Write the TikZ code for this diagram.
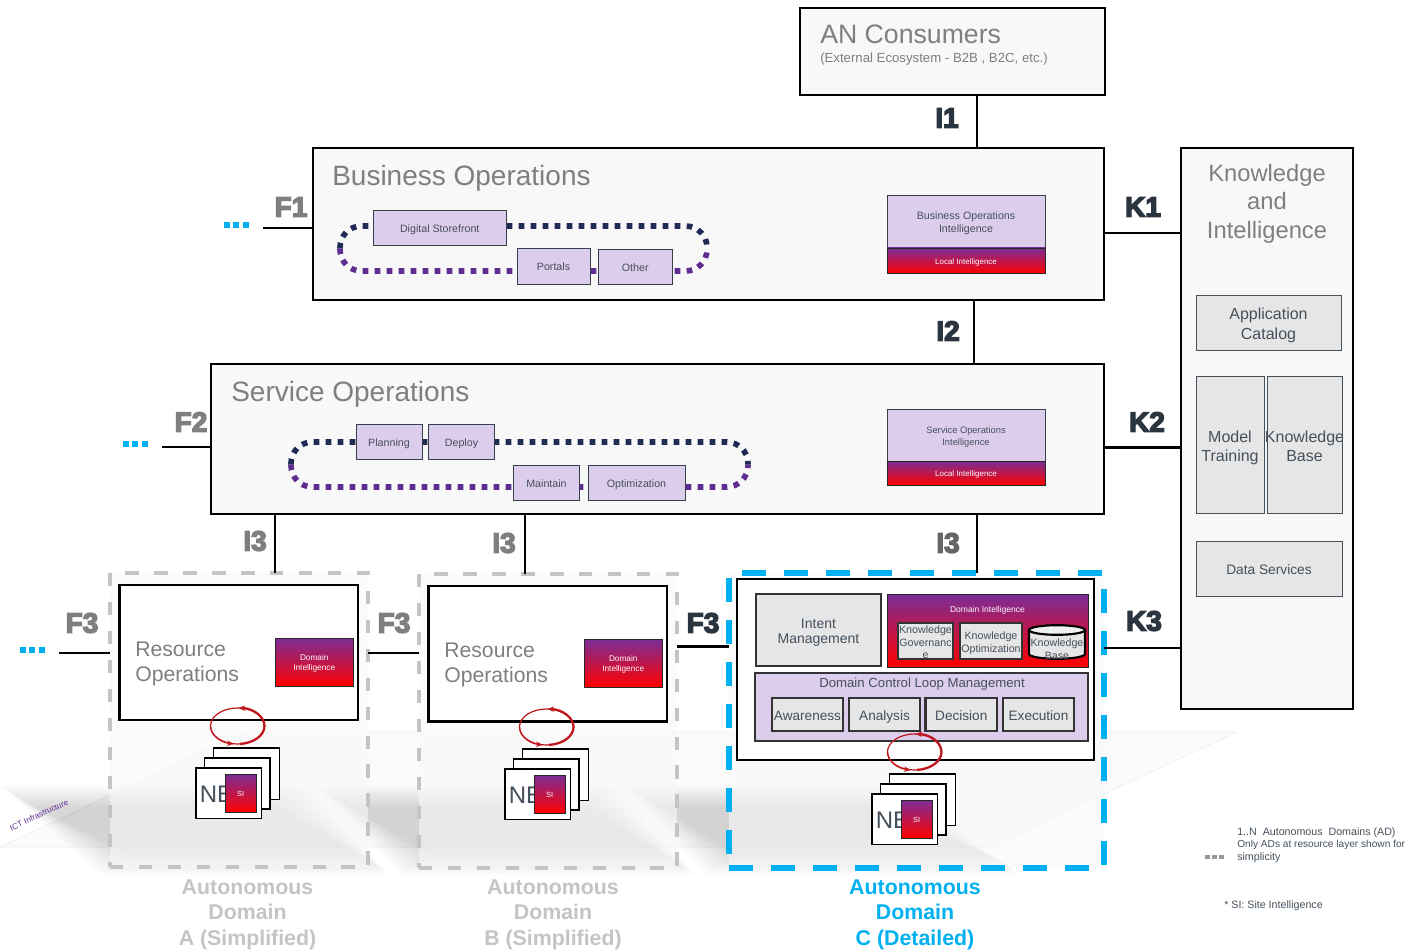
\documentclass[tikz,border=0pt]{standalone}
\usepackage{fontspec}
\setmainfont{Liberation Sans}
\newfontfamily\heavy[BoldFeatures={FakeBold=5}]{Liberation Sans}
\usetikzlibrary{arrows.meta}
\definecolor{panel}{HTML}{F8F8F8}
\definecolor{planefill}{HTML}{FBFBFB}
\definecolor{lilac}{HTML}{DDCDEC}
\definecolor{greybox}{HTML}{E6E6E6}
\definecolor{titlegrey}{HTML}{7F7F7F}
\definecolor{ink}{HTML}{44505C}
\definecolor{navy}{HTML}{1F2A55}
\definecolor{violet}{HTML}{5F2D91}
\definecolor{topviolet}{HTML}{7B2D96}
\definecolor{cyanx}{HTML}{00B0F0}
\definecolor{dashgrey}{HTML}{C4C4C4}
\definecolor{labelgrey}{HTML}{7F7F7F}
\definecolor{labeldark}{HTML}{2B3540}
\definecolor{loopred}{HTML}{C0161C}
\newcommand{\fsz}[1]{\fontsize{#1}{#1}\selectfont}
% \boxn[style]{name}{x1}{y1}{x2}{y2}{text}: text may overflow the box, as in the reference
\newcommand{\boxn}[7][]{%
  \pgfmathsetmacro\bxw{(#5-#3)*0.75}%
  \pgfmathsetmacro\bxh{(#6-#4)*0.75}%
  \pgfmathsetmacro\bxx{(#3+#5)/2}%
  \pgfmathsetmacro\bxy{(#4+#6)/2}%
  \node[anchor=center,inner sep=0pt,outer sep=0pt,minimum width=\bxw pt,minimum height=\bxh pt,#1] (#2) at (\bxx,\bxy) {\makebox[0pt]{\raisebox{-.49em}[0pt][0pt]{\begin{tabular}{@{}c@{}}#7\end{tabular}}}};%
}
\newcommand{\redloop}[2]{%
  \draw[loopred,line width=.9pt] (#1,#2) ellipse[x radius=20.25pt,y radius=13.5pt];
  \draw[loopred,line width=1.7pt,-{Stealth[length=5pt,width=4pt]}] (#1,#2) ++(20.25pt,0pt) arc[start angle=0,end angle=88,x radius=20.25pt,y radius=13.5pt];
  \draw[loopred,line width=1.7pt] (#1,#2) ++(20.25pt,0pt) arc[start angle=0,end angle=-85,x radius=20.25pt,y radius=13.5pt];
  \draw[loopred,line width=.9pt,-{Stealth[length=5pt,width=4pt]}] (#1,#2) ++(-20.25pt,0pt) arc[start angle=180,end angle=262,x radius=20.25pt,y radius=13.5pt];
}
% \nestack{dx}{dy}{suffix}
\newcommand{\nestack}[3]{%
  \pgfmathsetmacro\xa{#1+213.5}\pgfmathsetmacro\xb{#1+279.5}\pgfmathsetmacro\ya{#2+748}\pgfmathsetmacro\yb{#2+799.5}%
  \pgfmathsetmacro\xc{#1+204.5}\pgfmathsetmacro\xd{#1+270}\pgfmathsetmacro\yc{#2+758}\pgfmathsetmacro\yd{#2+809}%
  \pgfmathsetmacro\xe{#1+196}\pgfmathsetmacro\xf{#1+261.5}\pgfmathsetmacro\ye{#2+768}\pgfmathsetmacro\yf{#2+818.5}%
  \pgfmathsetmacro\xg{#1+225}\pgfmathsetmacro\xh{#1+256.5}\pgfmathsetmacro\yg{#2+774}\pgfmathsetmacro\yh{#2+812}%
  \pgfmathsetmacro\xt{#1+199.5}\pgfmathsetmacro\yt{#2+794.5}%
  \boxn[nebox]{neback#3}{\xa}{\ya}{\xb}{\yb}{}
  \boxn[nebox]{nemid#3}{\xc}{\yc}{\xd}{\yd}{}
  \boxn[nebox]{nefront#3}{\xe}{\ye}{\xf}{\yf}{}
  \node[anchor=west,inner sep=0pt,text=ink,font=\fsz{18}] (netext#3) at (\xt,\yt) {NE};
  \boxn[grad,font=\fsz{5.6}]{si#3}{\xg}{\yg}{\xh}{\yh}{SI}
}
\newcommand{\softband}[8]{%
  \foreach \k in {0,...,19}{
    \fill[black,fill opacity=.0065] ({#1+1.7*\k},{#2+1.15*\k}) -- ({#3-1.7*\k},{#4+1.15*\k}) -- ({#5-1.7*\k},{#6-1.15*\k}) -- ({#7+1.7*\k},{#8-1.15*\k}) -- cycle;
  }
}
\tikzset{
  x=0.75pt,y=-0.75pt,
  panelbox/.style={draw=black,line width=1.9pt,fill=panel},
  conn/.style={draw=black,line width=1.9pt},
  lilacbox/.style={draw=ink!80!black,line width=.7pt,fill=lilac,text=ink,font=\fsz{8}},
  grad/.style={draw=black!85,line width=.6pt,top color=topviolet,bottom color=red,text=white!88!lilac},
  greyb/.style={draw=ink,line width=.6pt,fill=greybox,text=ink,font=\fsz{12}},
  darkb/.style={draw=black!80,line width=1.6pt,fill=greybox,text=ink},
  nebox/.style={draw=black,line width=1.4pt,fill=white},
  white panel/.style={draw=black,line width=1.9pt,fill=white},
  dashA/.style={draw=dashgrey,line width=2.6pt,dash pattern=on 10pt off 11.7pt,fill=panel,fill opacity=.6},
  dashC/.style={draw=cyanx,line width=3.8pt,dash pattern=on 18pt off 13.5pt,fill=panel,fill opacity=.6},
  title/.style={anchor=west,inner sep=0pt,text=titlegrey},
  heavylabel/.style={inner sep=0pt,font=\heavy\bfseries\fsz{21}},
  domlabel/.style={inner sep=0pt,align=center,font=\bfseries\fontsize{16}{19.1}\selectfont},
  note/.style={anchor=west,inner sep=0pt,text=ink,font=\fsz{8}},
  dots/.style={line width=4.5pt,dash pattern=on 4.5pt off 2.6pt},
  plane/.style={draw=black!7,line width=.5pt,fill=planefill},
  loopdots/.style={line width=4.2pt,dash pattern=on 4.2pt off 4.8pt,rounded corners=16pt},
}
\begin{document}
\begin{tikzpicture}
\useasboundingbox (0,0) rectangle (1409,952);
% ground plane
\draw[plane] (0,847) -- (245,732) -- (1237,732) -- (990,847) -- cycle;
\softband{0}{785}{305}{785}{390}{875}{100}{875}
\softband{315}{785}{615}{785}{695}{875}{400}{875}
\softband{625}{785}{900}{785}{1020}{875}{705}{875}
\node[rotate=25,inner sep=0pt,text=violet,font=\fsz{6.1}] (ict) at (39,815) {ICT Infrastructure};
% dashed domains
\boxn[dashA]{domA}{110}{573}{368}{867}{}
\boxn[dashA]{domB}{419}{574}{677}{868}{}
\boxn[dashC]{domC}{729}{573}{1104}{868}{}
% panels
\boxn[panelbox]{an}{800}{8}{1105}{95}{}
\boxn[panelbox]{biz}{313}{148}{1104}{300}{}
\boxn[panelbox]{svc}{211}{364}{1104}{514}{}
\boxn[panelbox]{know}{1181}{148}{1353}{709}{}
\node[title,font=\fsz{20}] (antitle) at (820,34) {AN Consumers};
\node[title,font=\fsz{9.9}] (ansub) at (820,59.5) {(External Ecosystem - B2B , B2C, etc.)};
\node[title,font=\fsz{21}] (biztitle) at (332,178.5) {Business Operations};
\node[title,font=\fsz{21}] (svctitle) at (231,394.5) {Service Operations};
\node[inner sep=0pt,align=center,text=titlegrey,font=\fontsize{17.8}{21.3}\selectfont] (knowtitle) at (1267,203.5) {Knowledge\\and\\Intelligence};
% dotted loops
\draw[navy,loopdots] (340,248.5) |- (707,226) -- (707,248.5);
\draw[violet,loopdots] (340,248.5) |- (707,271) -- (707,248.5);
\draw[navy,loopdots] (291,464.5) |- (748,442) -- (748,464.5);
\draw[violet,loopdots] (291,464.5) |- (748,487) -- (748,464.5);
% business boxes
\boxn[lilacbox]{store}{373.5}{210}{506}{245}{Digital Storefront}
\boxn[lilacbox]{portals}{517}{248}{590}{284}{Portals}
\boxn[lilacbox]{other}{598.5}{249}{672}{284.5}{Other}
\boxn[lilacbox]{bizint}{887}{195}{1045}{248}{Business Operations\\[1.5pt]Intelligence}
\boxn[grad,font=\fsz{6}]{bizlocal}{887}{248}{1045}{273}{Local Intelligence}
% service boxes
\boxn[lilacbox]{planning}{356}{424}{422}{459.5}{Planning}
\boxn[lilacbox]{deploy}{428.5}{424}{494.5}{459.5}{Deploy}
\boxn[lilacbox]{maintain}{513.5}{465}{579.5}{500.5}{Maintain}
\boxn[lilacbox]{optim}{588}{465}{685}{500.5}{Optimization}
\boxn[lilacbox,font=\fsz{7}]{svcint}{887}{409}{1045}{461}{Service Operations\\[1.5pt]Intelligence}
\boxn[grad,font=\fsz{6}]{svclocal}{887}{461}{1045}{485}{Local Intelligence}
% knowledge column
\boxn[greyb]{catalog}{1196}{295}{1341}{350}{Application\\[2.5pt]Catalog}
\boxn[greyb]{model}{1196}{376}{1264}{513}{Model\\[2pt]Training}
\boxn[greyb]{kbase}{1267}{376}{1342}{513}{Knowledge\\[2pt]Base}
\boxn[greyb,font=\fsz{10.3}]{data}{1196}{541}{1342}{596}{Data Services}
% resource A
\boxn[white panel]{resA}{119.5}{585}{358}{720}{}
\node[title,align=left,font=\fontsize{15.9}{18.8}\selectfont] (resAt) at (135,663.5) {Resource\\Operations};
\boxn[grad,font=\fsz{6.2}]{diA}{275.5}{638}{353}{686}{Domain\\[1pt]Intelligence}
% resource B
\boxn[white panel]{resB}{428.5}{586}{667}{721.5}{}
\node[title,align=left,font=\fontsize{15.9}{18.8}\selectfont] (resBt) at (444,664.5) {Resource\\Operations};
\boxn[grad,font=\fsz{6.2}]{diB}{584.5}{639}{662}{687}{Domain\\[1pt]Intelligence}
% resource C
\boxn[white panel]{resC}{737}{579}{1094}{760}{}
\boxn[darkb,font=\fsz{10.5}]{intent}{756}{594}{881}{666}{Intent\\[1pt]Management}
\boxn[grad,font=\fsz{6.4}]{diC}{887}{594}{1088}{667}{}
\node[inner sep=0pt,text=white!88!lilac,font=\fsz{6.4}] (diCt) at (987.5,610) {Domain Intelligence};
\boxn[darkb,font=\fontsize{8}{9.6}\selectfont]{kgov}{898}{623}{953}{659}{Knowledge\\Governanc\\e}
\boxn[darkb,font=\fontsize{8}{9.6}\selectfont]{kopt}{960}{623}{1022}{659}{Knowledge\\Optimization}
\draw[draw=black,line width=1.6pt,fill=greybox] (1029,630) -- (1029,654) arc[start angle=180,end angle=360,x radius=21pt,y radius=3.6pt] -- (1085,630) -- cycle;
\draw[draw=black,line width=1.6pt,fill=greybox!60!white] (1057,630) ellipse[x radius=21pt,y radius=3.6pt];
\node[inner sep=0pt,align=center,text=ink,font=\fontsize{8}{9.6}\selectfont] (kbc) at (1057,649.5) {Knowledge\\Base};
\boxn[darkb,fill=lilac]{dclm}{755}{673}{1088}{741}{}
\node[inner sep=0pt,text=ink,font=\fsz{9.9}] (dclmt) at (922,684) {Domain Control Loop Management};
\boxn[darkb,font=\fsz{10.2}]{aware}{772}{698}{843}{731}{Awareness}
\boxn[darkb,font=\fsz{10.2}]{analysis}{849}{698}{920}{731}{Analysis}
\boxn[darkb,font=\fsz{10.2}]{decision}{925.5}{698}{997}{731}{Decision}
\boxn[darkb,font=\fsz{10.2}]{exec}{1003}{698}{1074}{731}{Execution}
% NE stacks and loops
\nestack{0}{0}{A}
\nestack{309}{1}{B}
\nestack{676}{26}{C}
\redloop{237.5}{726}
\redloop{546.5}{727}
\redloop{914.5}{752}
% connector anchors
\coordinate (vI1) at (977,0);
\coordinate (vI2) at (974,0);
\coordinate (vI3a) at (275,0);
\coordinate (vI3b) at (525,0);
\coordinate (vI3c) at (977,0);
\coordinate (hK1) at (0,233);
\coordinate (hK2) at (0,447.5);
\coordinate (hK3) at (0,648);
\coordinate (f1end) at (263,228);
\coordinate (f2end) at (162,447);
\coordinate (f3end) at (59,653);
\coordinate (hF3b) at (0,653);
\coordinate (hF3c) at (0,646.5);
\draw[conn] (an.south -| vI1) -- (biz.north -| vI1);
\draw[conn] (biz.south -| vI2) -- (svc.north -| vI2);
\draw[conn] (svc.south -| vI3a) -- (domA.north -| vI3a);
\draw[conn] (svc.south -| vI3b) -- (domB.north -| vI3b);
\draw[conn] (svc.south -| vI3c) -- (domC.north -| vI3c);
\draw[conn] (biz.east |- hK1) -- (know.west |- hK1);
\draw[conn] (svc.east |- hK2) -- (know.west |- hK2);
\draw[conn] (domC.east |- hK3) -- (know.west |- hK3);
\draw[conn] (f1end) -- (biz.west |- f1end);
\draw[conn] (f2end) -- (svc.west |- f2end);
\draw[conn] (f3end) -- (domA.west |- f3end);
\draw[conn] (domA.east |- hF3b) -- (domB.west |- hF3b);
\draw[conn] (domB.east |- hF3c) -- (domC.west |- hF3c);
% interface labels
\node[heavylabel,text=labeldark] (lI1) at (947,118) {I1};
\node[heavylabel,text=labeldark] (lI2) at (948,331) {I2};
\node[heavylabel,text=labelgrey] (lI3a) at (255,541) {I3};
\node[heavylabel,text=labelgrey] (lI3b) at (504,543) {I3};
\node[heavylabel,text=labelgrey!80!black] (lI3c) at (948,543) {I3};
\node[heavylabel,text=labelgrey] (lF1) at (291,207) {F1};
\node[heavylabel,text=labelgrey] (lF2) at (191,422) {F2};
\node[heavylabel,text=labelgrey] (lF3a) at (82,623) {F3};
\node[heavylabel,text=labelgrey] (lF3b) at (394,623) {F3};
\node[heavylabel,text=labeldark] (lF3c) at (703,623) {F3};
\node[heavylabel,text=labeldark] (lK1) at (1143,207) {K1};
\node[heavylabel,text=labeldark] (lK2) at (1147,422) {K2};
\node[heavylabel,text=labeldark] (lK3) at (1144,621) {K3};
% continuation dots
\draw[cyanx,dots] (224,225) -- (250,225);
\draw[cyanx,dots] (123,444) -- (149,444);
\draw[cyanx,dots] (20,650) -- (46,650);
\draw[black!40,line width=3.6pt,dash pattern=on 3.6pt off 1.6pt] (1205,857) -- (1225,857);
% domain labels
\node[domlabel,text=dashgrey] (labA) at (247.5,914.5) {Autonomous\\Domain\\A (Simplified)};
\node[domlabel,text=dashgrey] (labB) at (553,914.5) {Autonomous\\Domain\\B (Simplified)};
\node[domlabel,text=cyanx] (labC) at (915,914.5) {Autonomous\\Domain\\C (Detailed)};
% notes
\node[note] (n1) at (1237,832.5) {1..N\ \ Autonomous\ \ Domains (AD)};
\node[note,font=\fsz{7.6}] (n2) at (1237,844.5) {Only ADs at resource layer shown for};
\node[note] (n3) at (1237,857.5) {simplicity};
\node[note] (n4) at (1224,906) {* SI: Site Intelligence};
\end{tikzpicture}
\end{document}
